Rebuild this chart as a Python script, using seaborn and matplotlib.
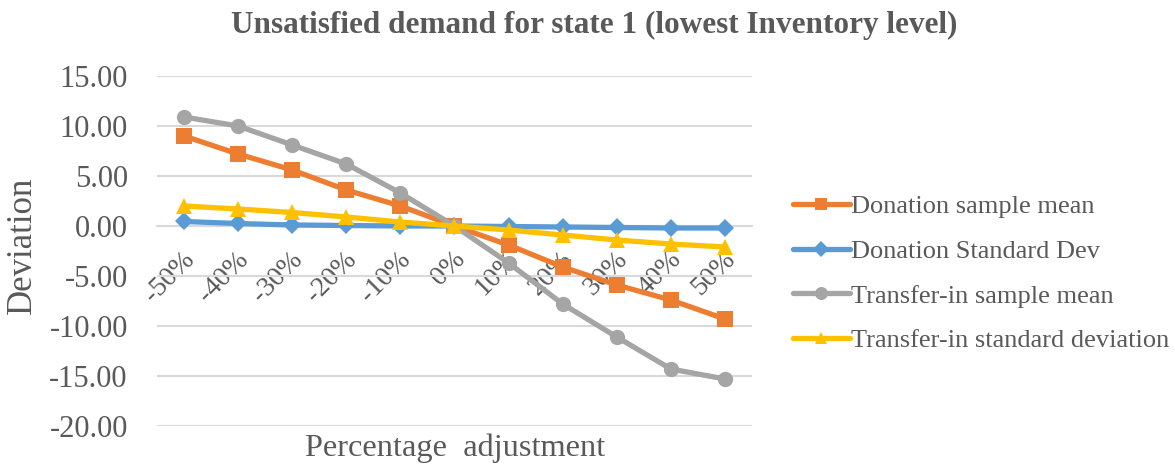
import matplotlib
matplotlib.use("Agg")
import matplotlib.pyplot as plt
import matplotlib.transforms as mtransforms
import seaborn as sns
import pandas as pd
from matplotlib.lines import Line2D

# Percentage adjustment categories
categories = ["-50%", "-40%", "-30%", "-20%", "-10%", "0%", "10%", "20%", "30%", "40%", "50%"]

# Deviation of unsatisfied demand per series
donation_mean = [9.0, 7.2, 5.6, 3.6, 2.0, 0.0, -1.9, -4.1, -5.9, -7.4, -9.3]
donation_sd = [0.45, 0.25, 0.1, 0.05, 0.0, 0.0, -0.05, -0.1, -0.15, -0.2, -0.2]
transfer_mean = [10.9, 10.0, 8.1, 6.2, 3.3, 0.0, -3.7, -7.8, -11.1, -14.3, -15.3]
transfer_sd = [2.0, 1.7, 1.35, 0.9, 0.4, 0.0, -0.4, -0.9, -1.4, -1.8, -2.1]

series_names = ["Donation sample mean", "Donation Standard Dev",
                "Transfer-in sample mean", "Transfer-in standard deviation"]
series_values = [donation_mean, donation_sd, transfer_mean, transfer_sd]
series_colors = ["#ED7D31", "#5B9BD5", "#A5A5A5", "#FFC000"]
series_markers = ["s", "D", "o", "^"]
series_msize = [11, 9.5, 11, 11]

y_ticks = [15, 10, 5, 0, -5, -10, -15, -20]

sns.set_theme(style="white")
plt.rcParams["font.family"] = ["Liberation Serif", "DejaVu Serif"]
plt.rcParams["axes.unicode_minus"] = False

text_color = "#595959"
grid_color = "#D9D9D9"

rows = []
for name, vals in zip(series_names, series_values):
    for i, v in enumerate(vals):
        rows.append({"series": name, "pos": i, "value": v})
df = pd.DataFrame(rows)

fig = plt.figure(figsize=(11.75, 4.65), dpi=100)
ax = fig.add_axes([157 / 1175, 1 - 426 / 465, (752 - 157) / 1175, 350 / 465])

for k, (name, color, marker, ms) in enumerate(zip(series_names, series_colors, series_markers, series_msize)):
    sub = df[df["series"] == name]
    sns.lineplot(data=sub, x="pos", y="value", ax=ax, color=color, lw=3.8,
                 marker=marker, markersize=ms, markeredgewidth=0,
                 zorder=3 + k, legend=False)

ax.set_xlim(-0.5, len(categories) - 0.5)
ax.set_ylim(-20, 15)
ax.set_yticks(y_ticks)
ax.set_yticklabels([f"{t:.2f}" for t in y_ticks], color=text_color, fontsize=22)
ax.tick_params(axis="y", length=0, pad=21)
ax.yaxis.grid(True, color=grid_color, lw=1.5)
ax.set_axisbelow(True)

# Category axis crosses at zero
ax.spines["bottom"].set_position(("data", 0))
ax.spines["bottom"].set_color(grid_color)
ax.spines["bottom"].set_linewidth(1.5)
for s in ["top", "right", "left"]:
    ax.spines[s].set_visible(False)
ax.set_xticks(range(len(categories)))
ax.set_xticklabels(categories, rotation=45, ha="right", va="top",
                   rotation_mode="anchor", color=text_color, fontsize=20)
ax.tick_params(axis="x", length=0, pad=15)
shift = mtransforms.ScaledTranslation(-2 / 100, 0, fig.dpi_scale_trans)
for lbl in ax.get_xticklabels():
    lbl.set_transform(lbl.get_transform() + shift)

ax.set_xlabel("")
ax.set_ylabel("")
fig.text(455 / 1175, 1 - 448 / 465, "Percentage  adjustment", ha="center", va="center",
         color=text_color, fontsize=23.3)
fig.text(22 / 1175, 1 - 245 / 465, "Deviation", ha="center", va="center",
         rotation=90, color=text_color, fontsize=25)
fig.text(594 / 1175, 1 - 25 / 465, "Unsatisfied demand for state 1 (lowest Inventory level)",
         ha="center", va="center", color=text_color, fontsize=22.5, fontweight="bold")

handles = [Line2D([0], [0], color=c, lw=3.8, marker=m, markersize=ms * 0.85, markeredgewidth=0)
           for c, m, ms in zip(series_colors, series_markers, series_msize)]
leg = fig.legend(handles, series_names, loc="upper left",
                 bbox_to_anchor=(793 / 1175, 1 - 195 / 465), frameon=False,
                 fontsize=19, handlelength=2.15, handletextpad=0.05,
                 labelspacing=0.8, borderpad=0, borderaxespad=0)
for t in leg.get_texts():
    t.set_color(text_color)

fig.savefig("out.png", dpi=100)
